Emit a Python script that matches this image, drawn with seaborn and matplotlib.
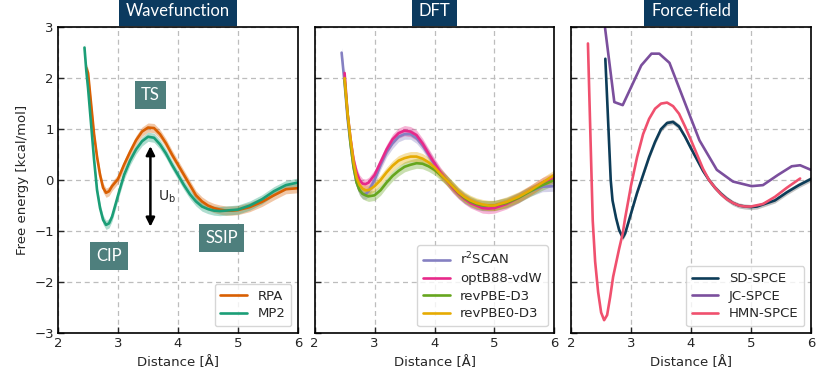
import numpy as np
import matplotlib
matplotlib.use('Agg')
import matplotlib.pyplot as plt
import seaborn as sns

# --- Wavefunction panel ---
wf_x = [2.44, 2.47, 2.5, 2.55, 2.6, 2.65, 2.7, 2.75, 2.8, 2.85, 2.9, 3.0, 3.1, 3.2, 3.3, 3.4,
        3.5, 3.6, 3.7, 3.8, 3.9, 4.0, 4.1, 4.2, 4.3, 4.4, 4.5, 4.6, 4.7, 4.8, 4.9, 5.0,
        5.2, 5.4, 5.6, 5.8, 6.0]
rpa = [np.nan, 2.2, 2.1, 1.5, 0.9, 0.45, 0.1, -0.15, -0.25, -0.22, -0.12, 0.02, 0.3, 0.55, 0.78, 0.95,
       1.03, 1.02, 0.9, 0.72, 0.5, 0.3, 0.1, -0.1, -0.3, -0.42, -0.5, -0.55, -0.58, -0.6, -0.6, -0.59,
       -0.53, -0.43, -0.3, -0.18, -0.16]
mp2 = [2.6, 2.15, 1.8, 1.1, 0.4, -0.2, -0.55, -0.78, -0.88, -0.85, -0.72, -0.3, 0.1, 0.38, 0.6, 0.76,
       0.85, 0.83, 0.7, 0.52, 0.3, 0.1, -0.1, -0.28, -0.42, -0.52, -0.57, -0.6, -0.61, -0.6, -0.59, -0.58,
       -0.5, -0.38, -0.22, -0.1, -0.05]
wf_err = 0.09

# --- DFT panel ---
dft_x = [2.45, 2.5, 2.55, 2.6, 2.65, 2.7, 2.75, 2.8, 2.85, 2.9, 3.0, 3.1, 3.2, 3.3, 3.4,
         3.5, 3.6, 3.7, 3.8, 3.9, 4.0, 4.1, 4.2, 4.3, 4.4, 4.5, 4.6, 4.7, 4.8, 4.9, 5.0,
         5.2, 5.4, 5.6, 5.8, 6.0]
r2scan = [2.5, 1.9, 1.2, 0.7, 0.25, -0.05, -0.2, -0.27, -0.28, -0.22, 0.0, 0.3, 0.55, 0.72, 0.85,
          0.9, 0.9, 0.82, 0.68, 0.5, 0.3, 0.13, 0.0, -0.14, -0.26, -0.36, -0.43, -0.48, -0.5, -0.51, -0.5,
          -0.44, -0.34, -0.22, -0.13, -0.12]
optb88 = [np.nan, 2.1, 1.3, 0.8, 0.4, 0.15, 0.0, -0.07, -0.08, -0.05, 0.1, 0.35, 0.6, 0.8, 0.92,
          0.97, 0.95, 0.88, 0.72, 0.52, 0.33, 0.15, 0.0, -0.15, -0.27, -0.37, -0.45, -0.5, -0.55, -0.56, -0.55,
          -0.47, -0.35, -0.2, -0.05, 0.05]
revpbe = [np.nan, 1.95, 1.3, 0.7, 0.25, -0.05, -0.2, -0.27, -0.3, -0.32, -0.3, -0.2, -0.05, 0.08, 0.18,
          0.26, 0.3, 0.33, 0.32, 0.27, 0.2, 0.1, 0.0, -0.12, -0.25, -0.35, -0.42, -0.47, -0.5, -0.5, -0.5,
          -0.45, -0.35, -0.22, -0.1, 0.0]
revpbe0 = [np.nan, 2.0, 1.3, 0.8, 0.35, 0.05, -0.1, -0.17, -0.2, -0.2, -0.12, 0.0, 0.15, 0.28, 0.38,
           0.43, 0.46, 0.46, 0.42, 0.35, 0.25, 0.12, 0.0, -0.12, -0.24, -0.33, -0.4, -0.45, -0.48, -0.5, -0.5,
           -0.43, -0.33, -0.2, -0.05, 0.1]
dft_err = 0.1

# --- Force-field panel ---
sd_x = [2.57, 2.6, 2.63, 2.66, 2.69, 2.75, 2.8, 2.86, 2.9, 3.0, 3.1, 3.2, 3.3, 3.4, 3.5, 3.6, 3.7,
        3.8, 3.9, 4.0, 4.1, 4.2, 4.3, 4.4, 4.5, 4.6, 4.7, 4.8, 4.9, 5.0, 5.1, 5.2, 5.4, 5.6,
        5.8, 5.9, 6.0]
sd_spce = [2.38, 1.6, 0.8, 0.0, -0.4, -0.75, -0.98, -1.13, -1.05, -0.65, -0.25, 0.1, 0.45, 0.75, 1.0,
           1.12, 1.14, 1.05, 0.85, 0.62, 0.4, 0.18, 0.0, -0.15, -0.27, -0.37, -0.45, -0.5, -0.52, -0.53,
           -0.52, -0.48, -0.4, -0.24, -0.1, -0.04, 0.02]
sd_err = 0.05
jc_x = [2.5, 2.72, 2.86, 3.17, 3.34, 3.47, 3.64, 3.86, 4.14, 4.43, 4.7, 5.01, 5.2, 5.45, 5.68,
        5.82, 6.0]
jc_spce = [3.6, 1.53, 1.47, 2.25, 2.48, 2.48, 2.3, 1.63, 0.78, 0.2, -0.03, -0.12, -0.1, 0.1, 0.27,
           0.29, 0.2]
hmn_x = [2.28, 2.3, 2.33, 2.36, 2.4, 2.45, 2.5, 2.55, 2.6, 2.65, 2.7, 2.8, 2.86, 2.9, 3.0, 3.1,
         3.2, 3.3, 3.4, 3.5, 3.6, 3.7, 3.8, 3.9, 4.0, 4.1, 4.2, 4.3, 4.4, 4.5, 4.6, 4.7, 4.8,
         4.9, 5.0, 5.2, 5.4, 5.6, 5.82]
hmn_spce = [2.68, 1.8, 0.5, -0.8, -1.6, -2.2, -2.6, -2.75, -2.65, -2.3, -1.9, -1.35, -1.05, -0.75, -0.1, 0.45,
            0.9, 1.2, 1.4, 1.5, 1.52, 1.45, 1.3, 1.05, 0.78, 0.5, 0.22, 0.0, -0.15, -0.28, -0.38, -0.45, -0.5,
            -0.52, -0.52, -0.47, -0.33, -0.15, 0.03]

titles = ['Wavefunction', 'DFT', 'Force-field']

sns.set_style('ticks')
plt.rcParams['font.family'] = ['DejaVu Sans']

fig, axes = plt.subplots(1, 3, figsize=(8.3, 3.88), dpi=100, sharey=True)
fig.subplots_adjust(left=0.07, right=0.977, bottom=0.142, top=0.930, wspace=0.07)


def band(ax, x, y, err, color):
    y = np.array(y, dtype=float)
    ax.fill_between(x, y - err, y + err, color=color, alpha=0.35, lw=0)


ax = axes[0]
for y, lab, c in [(rpa, 'RPA', '#d95f02'), (mp2, 'MP2', '#1b9e77')]:
    band(ax, wf_x, y, wf_err, c)
    sns.lineplot(x=wf_x, y=y, ax=ax, color=c, lw=1.9, label=lab)
box = dict(boxstyle='square,pad=0.38', fc='#4e7f7d', ec='none')
for s, bx, by in [('TS', 3.54, 1.67), ('CIP', 2.85, -1.49), ('SSIP', 4.73, -1.14)]:
    ax.text(bx, by, s, color='white', fontsize=12, ha='center', va='center', bbox=box, family='Lato')
ax.annotate('', xy=(3.54, 0.72), xytext=(3.54, -0.97),
            arrowprops=dict(arrowstyle='<|-|>', color='black', lw=1.8, mutation_scale=13))
ax.text(3.67, -0.33, r'U$_\mathrm{b}$', fontsize=10, ha='left', va='center')

ax = axes[1]
for y, lab, c in [(r2scan, r'r$^2$SCAN', '#8580c2'), (optb88, 'optB88-vdW', '#e7298a'),
                  (revpbe, 'revPBE-D3', '#66a61e'), (revpbe0, 'revPBE0-D3', '#e6ab02')]:
    band(ax, dft_x, y, dft_err, c)
    sns.lineplot(x=dft_x, y=y, ax=ax, color=c, lw=1.9, label=lab)

ax = axes[2]
band(ax, sd_x, sd_spce, sd_err, '#555555')
sns.lineplot(x=sd_x, y=sd_spce, ax=ax, color='#0d3c58', lw=1.9, label='SD-SPCE')
sns.lineplot(x=jc_x, y=jc_spce, ax=ax, color='#7b4f9d', lw=1.9, label='JC-SPCE')
sns.lineplot(x=hmn_x, y=hmn_spce, ax=ax, color='#f0506e', lw=1.9, label='HMN-SPCE')

for ax, t in zip(axes, titles):
    ax.set_xlim(2, 6)
    ax.set_ylim(-3, 3)
    ax.set_xticks([2, 3, 4, 5, 6])
    ax.set_yticks([-3, -2, -1, 0, 1, 2, 3])
    ax.grid(True, ls=(0, (4, 3)), color='#bdbdbd', lw=0.9)
    ax.tick_params(direction='in', length=4, width=1, labelsize=9.5, pad=3)
    for s in ax.spines.values():
        s.set_linewidth(1.2)
        s.set_color('black')
    ax.set_xlabel('Distance [Å]', fontsize=9.5)
    ax.legend(loc='lower right', fontsize=9.5, frameon=True, fancybox=True,
              edgecolor='#cccccc', handlelength=2.0, borderpad=0.45, labelspacing=0.35,
              handletextpad=0.8)
    ax.text(0.5, 1.028, t, transform=ax.transAxes, ha='center', va='bottom', color='white',
            fontsize=12, family='Lato',
            bbox=dict(boxstyle='square,pad=0.42', fc='#0b3a5f', ec='none'))

axes[0].set_ylabel('Free energy [kcal/mol]', fontsize=9.5)

fig.savefig('out.png', dpi=100)
